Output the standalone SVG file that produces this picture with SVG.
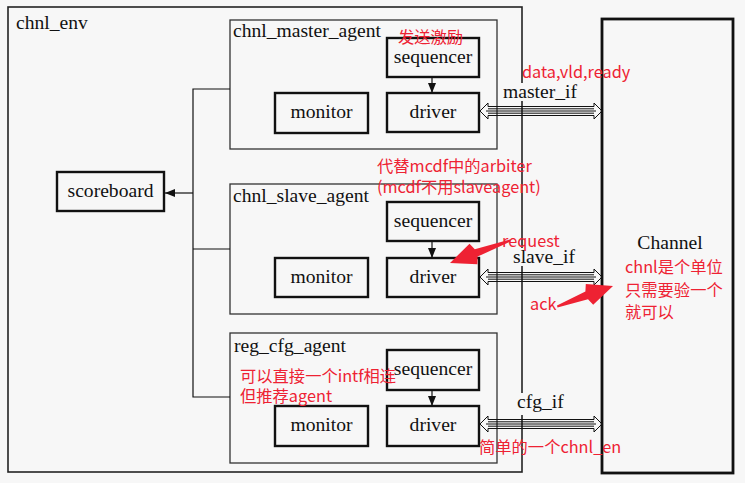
<svg xmlns="http://www.w3.org/2000/svg" width="745" height="483" viewBox="0 0 745 483">
<style>
.t{font-family:"Liberation Serif","Times New Roman",serif;font-size:19.6px;fill:#111}
.r{font-family:"Noto Sans CJK SC","Noto Sans",sans-serif;font-size:16.3px;fill:#ee2233}
.agent{fill:none;stroke:#333;stroke-width:1.3}
.comp{fill:none;stroke:#111;stroke-width:2.4}
.ln{fill:none;stroke:#111;stroke-width:1.2}
.bus{fill:none;stroke:#111;stroke-width:1}
.bg{fill:#f7f7f7}
</style>
<defs>
<marker id="ah" viewBox="0 0 10 8" refX="10" refY="4" markerWidth="10" markerHeight="8" markerUnits="userSpaceOnUse" orient="auto">
<path d="M0,0 L10,4 L0,8 Z" fill="#111"/>
</marker>
</defs>
<rect width="745" height="483" fill="#f7f7f7"/>
<g id="chnl_env">
<rect x="8" y="7" width="514" height="465" fill="none" stroke="#222" stroke-width="1.6"/>
<text class="t" x="16" y="29">chnl_env</text>
</g>
<g id="channel">
<rect x="602" y="19" width="131" height="454" fill="none" stroke="#111" stroke-width="2.8"/>
<text class="t" x="670" y="249" text-anchor="middle">Channel</text>
</g>
<g id="scoreboard">
<rect class="comp" x="57" y="172" width="107" height="39"/>
<text class="t" x="110.5" y="197" text-anchor="middle">scoreboard</text>
</g>
<g id="chnl_master_agent">
<rect class="agent" x="230" y="20" width="267" height="129"/>
<text class="t" x="233" y="37">chnl_master_agent</text>
</g>
<g id="master_sequencer">
<rect class="comp" x="387" y="38" width="92" height="39"/>
<text class="t" x="433" y="63" text-anchor="middle">sequencer</text>
</g>
<g id="master_driver">
<rect class="comp" x="387" y="93" width="92" height="39"/>
<text class="t" x="433" y="118" text-anchor="middle">driver</text>
</g>
<g id="master_monitor">
<rect class="comp" x="275" y="93" width="93" height="40"/>
<text class="t" x="321.5" y="118" text-anchor="middle">monitor</text>
</g>
<g id="chnl_slave_agent">
<rect class="agent" x="230" y="184" width="267" height="130"/>
<text class="t" x="233" y="202">chnl_slave_agent</text>
</g>
<g id="slave_sequencer">
<rect class="comp" x="387" y="202" width="92" height="39"/>
<text class="t" x="433" y="227" text-anchor="middle">sequencer</text>
</g>
<g id="slave_driver">
<rect class="comp" x="387" y="258" width="92" height="39"/>
<text class="t" x="433" y="283" text-anchor="middle">driver</text>
</g>
<g id="slave_monitor">
<rect class="comp" x="275" y="258" width="93" height="39"/>
<text class="t" x="321.5" y="283" text-anchor="middle">monitor</text>
</g>
<g id="reg_cfg_agent">
<rect class="agent" x="230" y="333" width="267" height="130"/>
<text class="t" x="234" y="352">reg_cfg_agent</text>
</g>
<g id="reg_sequencer">
<rect class="comp" x="387" y="350" width="92" height="40"/>
<text class="t" x="433" y="375" text-anchor="middle">sequencer</text>
</g>
<g id="reg_driver">
<rect class="comp" x="387" y="406" width="92" height="40"/>
<text class="t" x="433" y="431" text-anchor="middle">driver</text>
</g>
<g id="reg_monitor">
<rect class="comp" x="275" y="406" width="93" height="40"/>
<text class="t" x="321.5" y="431" text-anchor="middle">monitor</text>
</g>
<g id="connectors">
<polyline class="ln" points="230,89 193,89 193,397 230,397"/>
<line class="ln" x1="193" y1="249" x2="230" y2="249"/>
<line class="ln" x1="193" y1="193" x2="165" y2="193" marker-end="url(#ah)"/>
<line class="ln" x1="432" y1="77" x2="432" y2="93" marker-end="url(#ah)"/>
<line class="ln" x1="432" y1="241" x2="432" y2="258" marker-end="url(#ah)"/>
<line class="ln" x1="432" y1="390" x2="432" y2="406" marker-end="url(#ah)"/>
<g id="master_if">
<polygon class="bus" points="480,111 488,103 488,106.5 594,106.5 594,103 602,111 594,119 594,115.5 488,115.5 488,119"/>
<path class="bus" d="M488,108.8H594M486,111H596M488,113.2H594"/>
<rect class="bg" x="502" y="83" width="78" height="18"/>
<text class="t" x="503" y="98">master_if</text>
</g>
<g id="slave_if">
<polygon class="bus" points="480,277 488,269 488,272.5 594,272.5 594,269 602,277 594,285 594,281.5 488,281.5 488,285"/>
<path class="bus" d="M488,274.8H594M486,277H596M488,279.2H594"/>
<rect class="bg" x="512" y="248" width="66" height="18"/>
<text class="t" x="513" y="263">slave_if</text>
</g>
<g id="cfg_if">
<polygon class="bus" points="480,424 488,416 488,419.5 594,419.5 594,416 602,424 594,432 594,428.5 488,428.5 488,432"/>
<path class="bus" d="M488,421.8H594M486,424H596M488,426.2H594"/>
<rect class="bg" x="515" y="393" width="50" height="22"/>
<text class="t" x="517" y="408">cfg_if</text>
</g>
</g>
<g id="annotations">
<text class="r" x="398" y="43">发送激励</text>
<text class="r" x="522" y="78">data,vld,ready</text>
<text class="r" x="377" y="172">代替mcdf中的arbiter</text>
<text class="r" x="377" y="193">(mcdf不用slaveagent)</text>
<text class="r" x="502" y="247">request</text>
<text class="r" x="530" y="310">ack</text>
<text class="r" x="625" y="273">chnl是个单位</text>
<text class="r" x="625" y="296">只需要验一个</text>
<text class="r" x="625" y="318">就可以</text>
<text class="r" x="240" y="382">可以直接一个intf相连</text>
<text class="r" x="240" y="402">但推荐agent</text>
<text class="r" x="479" y="453">简单的一个chnl_en</text>
<polygon fill="#ee2233" points="450,263 469.5,243.7 474.8,249.2 510,239.5 510.5,241.5 477.6,256.6 477.4,264.3"/>
<polygon fill="#ee2233" points="613,286 585.8,284 585.4,291.6 557,305.5 557.5,307.5 588,299.2 593.2,304.8"/>
</g>
</svg>
